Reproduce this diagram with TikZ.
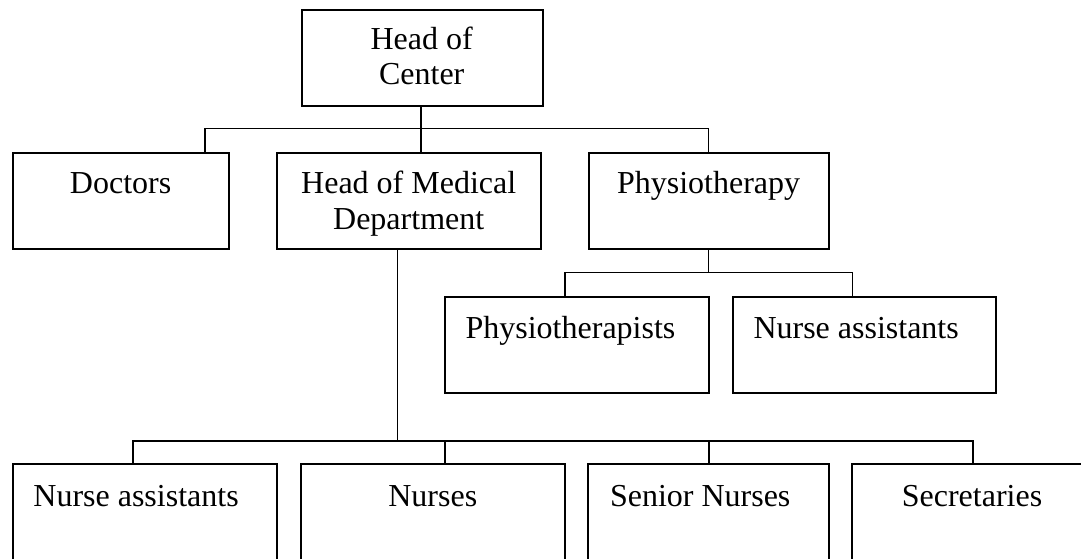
\documentclass[tikz,border=0pt]{standalone}
\usepackage{fontspec}
\setmainfont{Liberation Serif}
\begin{document}
\begin{tikzpicture}[x=1pt,y=-1pt,
  box/.style={draw=black,line width=2pt,inner sep=0pt,outer sep=0pt,minimum height=96pt},
  conn/.style={draw=black,line width=1.5pt},
  lbl/.style={inner sep=0pt,outer sep=0pt,font=\fontsize{32}{36}\selectfont}]
\fill[white] (0,0) rectangle (1081,559);
\useasboundingbox (0,0) rectangle (1081,559);

% boxes
\node[box,minimum width=240.4pt] (hc)  at (422.5,58) {};
\node[box,minimum width=215.9pt] (doc) at (120.65,200.85) {};
\node[box,minimum width=264.5pt] (hm)  at (408.75,200.85) {};
\node[box,minimum width=240pt]   (phy) at (708.6,200.85) {};
\node[box,minimum width=264.7pt] (pt)  at (576.95,344.7) {};
\node[box,minimum width=263.3pt] (na1) at (864.35,344.7) {};
\node[box,minimum width=264.5pt] (na2) at (144.95,512.3) {};
\node[box,minimum width=264.5pt] (nur) at (432.85,512.3) {};
\node[box,minimum width=240.7pt] (sen) at (708.55,512.3) {};
\node[box,minimum width=242.4pt] (sec) at (972.8,512.3) {};

% labels
\node[lbl,anchor=base] (hct1) at (421.7,50) {Head of};
\node[lbl,anchor=base] (hct2) at (421.7,85) {Center};
\node[lbl,anchor=base] (doct) at (120.6,193.5) {Doctors};
\node[lbl,anchor=base] (hmt1) at (408.7,193) {Head of Medical};
\node[lbl,anchor=base] (hmt2) at (408.7,229) {Department};
\node[lbl,anchor=base] (phyt) at (708.6,193) {Physiotherapy};
\node[lbl,anchor=base west] (ptt) at (465.6,338.3) {Physiotherapists};
\node[lbl,anchor=base west] (na1t) at (753.5,338.3) {Nurse assistants};
\node[lbl,anchor=base west] (na2t) at (33.4,506.7) {Nurse assistants};
\node[lbl,anchor=base] (nurt) at (432.8,506.7) {Nurses};
\node[lbl,anchor=base west] (sent) at (610,506.7) {Senior Nurses};
\node[lbl,anchor=base] (sect) at (972,506.7) {Secretaries};

% bus levels and drop positions
\coordinate (busA) at (0,128.7);
\coordinate (busB) at (0,272.7);
\coordinate (busC) at (0,441);
\coordinate (xh) at (421,0);
\coordinate (xd) at (205,0);
\coordinate (xa) at (565,0);
\coordinate (xb) at (852.7,0);
\coordinate (xm) at (397.7,0);
\coordinate (x1) at (133,0);
\coordinate (x2) at (445,0);
\coordinate (x3) at (709,0);
\coordinate (x4) at (973,0);

% head of center to the first level
\draw[conn] (xh |- hc.south) -- (xh |- hm.north);
\draw[conn] (xd |- doc.north) -- (xd |- busA) -- (phy.north |- busA) -- (phy.north);

% physiotherapy branch
\draw[conn] (phy.south) -- (phy.south |- busB);
\draw[conn] (xa |- pt.north) -- (xa |- busB) -- (xb |- busB) -- (xb |- na1.north);

% medical department branch
\draw[conn] (xm |- hm.south) -- (xm |- busC);
\draw[conn] (x1 |- na2.north) -- (x1 |- busC) -- (x4 |- busC) -- (x4 |- sec.north);
\draw[conn] (x2 |- busC) -- (x2 |- nur.north);
\draw[conn] (x3 |- busC) -- (x3 |- sen.north);
\end{tikzpicture}
\end{document}
